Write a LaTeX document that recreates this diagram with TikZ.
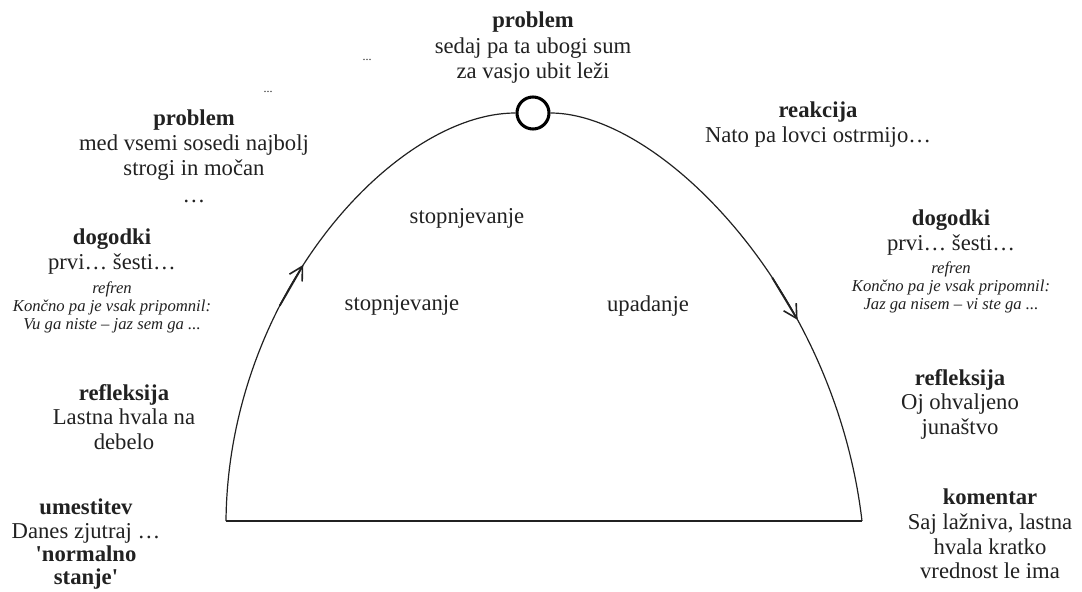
\documentclass[tikz,border=0pt]{standalone}
\usepackage{fontspec}
\setmainfont{Liberation Serif}
\usetikzlibrary{arrows.meta, positioning}
\definecolor{InkGray}{rgb}{0.13, 0.13, 0.13}

\begin{document}
\begin{tikzpicture}[
    x=0.75pt, y=-0.75pt,
    font=\fontsize{17}{18.5}\selectfont,
    txt/.style={align=center, inner sep=0pt, anchor=north, text=InkGray},
    refr/.style={align=center, inner sep=0pt, anchor=north, text=InkGray,
        font=\fontsize{12.5}{13.5}\selectfont\itshape},
    lab/.style={inner sep=0pt, text=InkGray},
    dots/.style={inner sep=0pt, text=InkGray, font=\fontsize{9}{10}\selectfont},
    curve/.style={line width=0.9pt, InkGray},
    flow/.style={-{Straight Barb[length=10pt, width=11pt, line width=1.2pt]}, line width=1.4pt, InkGray},
]
\useasboundingbox (0,0) rectangle (1082,592);

% ---- lok zgodbe ----
\node[draw, circle, line width=2.3pt, minimum size=24pt, fill=white] (apex) at (533,113) {};
\coordinate (lb) at (226,521);
\coordinate (rb) at (862,521);
\draw[curve] (lb) .. controls (228,295) and (395,113) .. (apex)
    coordinate[pos=0.35] (la0) coordinate[pos=0.43] (la1);
\draw[curve] (apex) .. controls (660,113) and (835,290) .. (rb)
    coordinate[pos=0.60] (ra0) coordinate[pos=0.68] (ra1);
\draw[curve] (lb) -- (rb);
\draw[flow] (la0) -- (la1);
\draw[flow] (ra0) -- (ra1);

% ---- vrh ----
\node[txt, font=\fontsize{17}{19}\selectfont] (probTop) at (533,12)
    {\textbf{problem}\\sedaj pa ta ubogi sum\\za vasjo ubit leži};
\node[dots] (dotsA) at (367,60) {...};
\node[dots] (dotsB) at (268,92) {...};

% ---- leva stran ----
\node[txt] (probL) at (194,110)
    {\textbf{problem}\\med vsemi sosedi najbolj\\strogi in močan\\[2pt]…};
\node[txt] (dogL) at (112,229) {\textbf{dogodki}\\prvi… šesti…};
\node[refr, below=5pt of dogL] (refL)
    {refren\\Končno pa je vsak pripomnil:\\Vu ga niste – jaz sem ga ...};
\node[txt] (reflL) at (124,384) {\textbf{refleksija}\\Lastna hvala na\\debelo};
\node[txt, font=\fontsize{17}{17.5}\selectfont] (umest) at (86,499)
    {\textbf{umestitev}\\Danes zjutraj …\\\textbf{\textquotesingle normalno}\\\textbf{stanje\textquotesingle}};

% ---- desna stran ----
\node[txt] (reak) at (818,102) {\textbf{reakcija}\\Nato pa lovci ostrmijo…};
\node[txt] (dogR) at (951,210) {\textbf{dogodki}\\prvi… šesti…};
\node[refr, below=4pt of dogR] (refR)
    {refren\\Končno pa je vsak pripomnil:\\Jaz ga nisem – vi ste ga ...};
\node[txt] (reflR) at (960,369) {\textbf{refleksija}\\Oj ohvaljeno\\junaštvo};
\node[txt] (koment) at (990,489)
    {\textbf{komentar}\\Saj lažniva, lastna\\hvala kratko\\vrednost le ima};

% ---- znotraj loka ----
\node[lab] (stopA) at (467,218) {stopnjevanje};
\node[lab] (stopB) at (402,305) {stopnjevanje};
\node[lab] (upad) at (648,306) {upadanje};

\end{tikzpicture}
\end{document}
